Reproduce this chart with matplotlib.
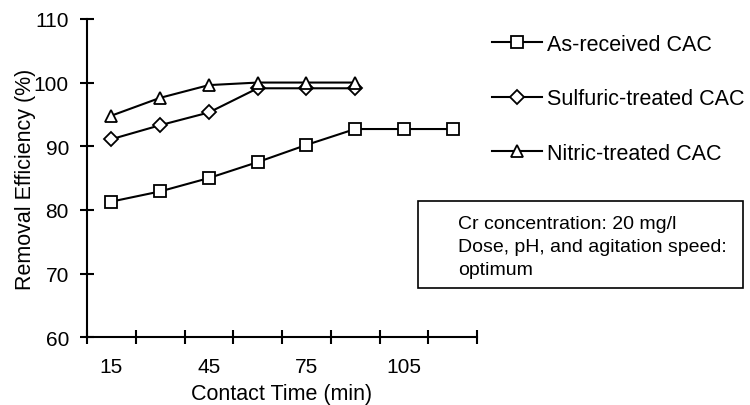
import matplotlib
matplotlib.use('Agg')
import matplotlib.pyplot as plt
from matplotlib.patches import Rectangle
plt.rc('font', family='Liberation Sans')

# Contact time (min) and removal efficiency (%) for each carbon
contact_time = [15, 30, 45, 60, 75, 90, 105, 120]
as_received = [81.3, 82.9, 85.0, 87.5, 90.2, 92.7, 92.7, 92.7]
sulfuric = [91.1, 93.3, 95.3, 99.1, 99.1, 99.1]
nitric = [94.8, 97.6, 99.6, 100.0, 100.0, 100.0]

series_names = ['As-received CAC', 'Sulfuric-treated CAC', 'Nitric-treated CAC']
tick_labels = ['15', '45', '75', '105']
note_lines = ['Cr concentration: 20 mg/l',
              'Dose, pH, and agitation speed:',
              'optimum']

fig = plt.figure(figsize=(7.5, 4.06), dpi=100)
ax = fig.add_axes([0.116, 0.167, 0.52, 0.784])

style = dict(color='black', lw=1.5, markerfacecolor='white',
             markeredgecolor='black', markeredgewidth=1.3)
h1, = ax.plot(contact_time, as_received, marker='s', ms=8, **style)
h2, = ax.plot(contact_time[:len(sulfuric)], sulfuric, marker='D', ms=7, **style)
h3, = ax.plot(contact_time[:len(nitric)], nitric, marker='^', ms=9, **style)

# category style axis: tick marks between the time points
step = contact_time[1] - contact_time[0]
ax.set_xlim(contact_time[0] - step / 2, contact_time[-1] + step / 2)
ax.set_xticks([t - step / 2 for t in contact_time] + [contact_time[-1] + step / 2])
ax.set_xticklabels([])
ax.set_xticks([int(s) for s in tick_labels], minor=True)
ax.set_xticklabels(tick_labels, minor=True)
ax.tick_params(axis='x', which='major', direction='inout', length=10, width=1.5)
ax.tick_params(axis='x', which='minor', length=0, pad=14, labelsize=15)

ax.set_ylim(60, 110)
ax.set_yticks(range(60, 111, 10))
ax.tick_params(axis='y', direction='inout', length=10, width=1.5, pad=8, labelsize=15)

for side in ['top', 'right']:
    ax.spines[side].set_visible(False)
for side in ['left', 'bottom']:
    ax.spines[side].set_linewidth(1.5)

ax.set_xlabel('Contact Time (min)', fontsize=15.5, labelpad=5)
ax.set_ylabel('Removal Efficiency (%)', fontsize=15.5, labelpad=-1.5)

fig.legend([h1, h2, h3], series_names, loc='upper left',
           bbox_to_anchor=(0.645, 0.935), frameon=False, fontsize=15.5,
           handlelength=2.3, handletextpad=0.25, labelspacing=1.55,
           borderaxespad=0)

# condition note in a framed box
fig.patches.append(Rectangle((0.557, 1 - 289 / 406), 0.433, 87 / 406,
                             transform=fig.transFigure, fill=False,
                             edgecolor='black', lw=1.2))
fig.text(0.611, 1 - 216 / 406, '\n'.join(note_lines), fontsize=14,
         va='top', ha='left', linespacing=1.45,
         transform=fig.transFigure)

plt.savefig('out.png', dpi=100)
plt.close()
